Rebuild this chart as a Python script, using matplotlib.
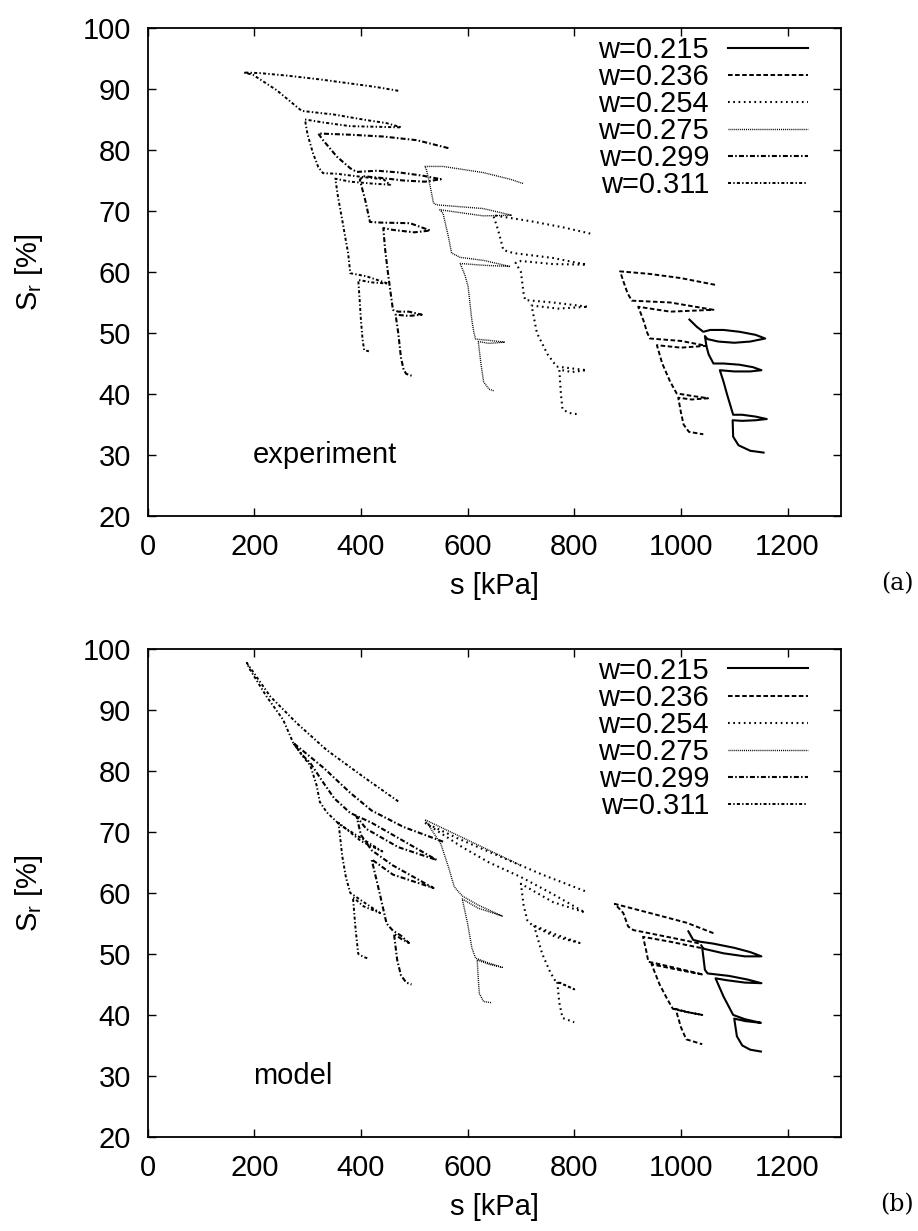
import matplotlib
matplotlib.use('Agg')
import matplotlib.pyplot as plt

plt.rcParams['font.family'] = ['Liberation Sans', 'DejaVu Sans']
plt.rcParams['lines.scale_dashes'] = False

labels = ['w=0.215', 'w=0.236', 'w=0.254', 'w=0.275', 'w=0.299', 'w=0.311']
styles = ['-', (0, (3.3, 1.8)), (0, (1.2, 2.6)), (0, (0.7, 0.7)),
          (0, (3.6, 1.6, 1.1, 1.6)), (0, (2.2, 1.6, 1.0, 1.6))]

# ---- experiment ----
exp_s_215 = [1016, 1030, 1042, 1055, 1080, 1110, 1140, 1158, 1130, 1100, 1070, 1050, 1045, 1048, 1052, 1061,
             1080, 1110, 1135, 1151, 1130, 1100, 1073, 1080, 1086, 1098, 1115, 1140, 1161, 1140, 1115, 1097,
             1098, 1108, 1130, 1155]
exp_sr_215 = [52.2, 51.0, 50.2, 50.5, 50.5, 50.2, 49.7, 49.1, 48.6, 48.4, 48.6, 49.0, 49.5, 47.8, 46.5, 45.0,
              45.0, 44.8, 44.4, 43.9, 43.7, 43.7, 43.9, 42.0, 40.1, 36.6, 36.6, 36.3, 35.9, 35.7, 35.6, 35.7,
              33.0, 31.6, 30.7, 30.4]

exp_s_236 = [1064, 1000, 940, 886, 892, 900, 908, 980, 1061, 980, 920, 930, 937, 942, 1000, 1048, 1000, 955,
             965, 980, 992, 1020, 1051, 1020, 995, 1000, 1005, 1015, 1042]
exp_sr_236 = [57.9, 59.0, 59.7, 60.1, 58.5, 56.5, 55.3, 55.0, 53.8, 53.5, 54.3, 52.0, 50.0, 49.1, 48.7, 47.9, 47.6, 48.0,
              45.0, 42.0, 40.1, 39.7, 39.3, 39.1, 39.4, 37.0, 35.0, 33.8, 33.4]

exp_s_254 = [830, 780, 720, 648, 655, 660, 667, 686, 760, 823, 760, 700, 690, 700, 705, 708, 760, 826, 770, 720,
             730, 750, 767, 795, 823, 795, 772, 775, 778, 790, 805]
exp_sr_254 = [66.3, 67.3, 68.3, 69.3, 67.5, 66.0, 63.6, 63.1, 62.3, 61.2, 61.3, 61.8, 61.5, 60.0, 56.5, 55.4, 55.0, 54.3,
              54.0, 54.5, 50.0, 46.5, 44.5, 44.2, 43.9, 43.6, 44.0, 40.0, 37.5, 36.9, 36.7]

exp_s_275 = [704, 680, 629, 554, 520, 523, 530, 536, 542, 629, 683, 629, 548, 554, 564, 570, 586, 630, 680, 630,
             586, 595, 601, 608, 612, 615, 640, 670, 640, 620, 625, 630, 640, 650]
exp_sr_275 = [74.5, 75.2, 76.3, 77.3, 77.3, 76.7, 74.0, 71.3, 71.0, 70.4, 69.3, 69.2, 70.2, 69.6, 65.8, 63.1, 62.4,
              61.9, 60.9, 61.1, 61.4, 59.5, 57.6, 52.1, 50.0, 49.0, 48.8, 48.5, 48.3, 48.6, 45.0, 42.0, 40.8, 40.5]

exp_s_299 = [564, 505, 442, 380, 320, 329, 355, 380, 392, 430, 473, 515, 550, 520, 479, 440, 404, 398, 408, 417,
             436, 492, 530, 500, 460, 442, 445, 450, 455, 460, 470, 490, 514, 490, 465, 470, 475, 480, 485, 495]
exp_sr_299 = [80.3, 81.6, 82.2, 82.5, 82.7, 81.6, 78.9, 77.0, 76.4, 76.6, 76.3, 75.8, 75.2, 74.8, 75.0, 75.4, 75.7,
              75.1, 71.8, 68.2, 68.1, 68.0, 66.8, 66.5, 66.9, 67.2, 64.0, 60.3, 57.0, 53.8, 53.5, 53.5, 53.0, 52.8,
              53.0, 50.0, 46.0, 44.0, 43.3, 43.0]

exp_s_311 = [470, 430, 380, 320, 260, 210, 180, 198, 242, 289, 350, 410, 448, 476, 430, 380, 330, 295, 300, 310,
             320, 329, 355, 400, 442, 455, 420, 380, 352, 357, 365, 372, 376, 380, 410, 451, 420, 395, 398, 400,
             403, 406, 415]
exp_sr_311 = [89.7, 90.3, 90.9, 91.6, 92.2, 92.6, 92.7, 92.3, 89.8, 86.4, 85.8, 84.9, 84.4, 83.7, 83.8, 83.9, 84.5,
              85.0, 82.5, 79.5, 77.2, 76.2, 76.1, 75.6, 75.2, 74.3, 74.5, 74.8, 75.3, 72.3, 68.5, 65.0, 63.1, 59.8,
              59.3, 58.1, 58.3, 58.7, 54.9, 52.1, 49.0, 47.2, 47.0]

# ---- model ----
mod_s_215 = [1014, 1023, 1036, 1060, 1100, 1130, 1151, 1120, 1080, 1045, 1040, 1045, 1050, 1060, 1090, 1125,
             1151, 1120, 1085, 1065, 1080, 1098, 1120, 1150, 1120, 1100, 1105, 1115, 1130, 1150]
mod_sr_215 = [53.7, 52.3, 52.0, 51.7, 51.0, 50.3, 49.6, 49.6, 50.1, 50.8, 51.0, 47.4, 46.8, 46.7, 46.4, 45.8,
              45.2, 45.3, 45.7, 46.0, 43.0, 40.0, 39.3, 38.7, 39.0, 39.4, 36.5, 35.0, 34.3, 34.0]

mod_s_236 = [1061, 1011, 942, 876, 892, 901, 911, 923, 980, 1036, 1042, 980, 929, 935, 939, 951, 1000, 1042, 1000,
             945, 960, 975, 985, 1010, 1040, 1010, 990, 1000, 1010, 1040]
mod_sr_236 = [53.4, 55.1, 56.7, 58.2, 56.7, 54.5, 53.9, 53.7, 52.7, 51.7, 50.9, 52.0, 52.8, 50.5, 48.7, 48.5, 47.5,
              46.6, 47.3, 48.3, 45.0, 42.5, 41.0, 40.5, 40.0, 40.5, 41.0, 38.0, 36.0, 35.2]

mod_s_254 = [820, 740, 660, 580, 520, 590, 640, 700, 760, 820, 760, 700, 705, 712, 720, 765, 810, 765, 725, 740,
             755, 765, 785, 800, 780, 768, 772, 778, 800]
mod_sr_254 = [60.3, 63.0, 66.0, 69.0, 71.5, 67.5, 65.0, 62.6, 59.8, 56.8, 58.5, 61.5, 58.0, 55.5, 54.8, 53.2, 51.8,
              52.8, 54.5, 50.0, 47.0, 45.5, 44.8, 44.2, 45.0, 45.5, 42.0, 39.5, 38.8]

mod_s_275 = [700, 640, 580, 520, 550, 565, 575, 590, 620, 665, 620, 590, 600, 608, 615, 640, 665, 640, 618, 620,
             622, 630, 645]
mod_sr_275 = [64.5, 67.0, 69.5, 72.0, 68.0, 64.0, 61.0, 59.5, 58.0, 56.2, 57.5, 59.0, 55.0, 51.0, 49.3, 48.5, 47.8,
              48.3, 49.0, 46.0, 43.5, 42.2, 42.0]

mod_s_299 = [554, 480, 420, 380, 330, 273, 290, 305, 330, 350, 380, 420, 470, 542, 470, 410, 392, 400, 420, 460,
             536, 460, 420, 435, 448, 460, 475, 490, 475, 462, 468, 475, 485, 495]
mod_sr_299 = [68.4, 70.8, 73.5, 76.4, 80.5, 84.6, 82.6, 81.3, 78.0, 75.5, 73.1, 71.5, 69.0, 65.4, 67.5, 70.5, 72.5,
              69.5, 67.0, 64.5, 60.8, 63.0, 65.5, 60.0, 55.0, 53.8, 53.0, 51.8, 52.5, 53.3, 49.0, 46.5, 45.3, 45.0]

mod_s_311 = [470, 405, 336, 280, 230, 186, 192, 223, 254, 273, 290, 305, 317, 323, 336, 360, 400, 440, 400, 358,
             365, 372, 380, 405, 436, 405, 385, 390, 395, 405, 415]
mod_sr_311 = [75.0, 79.0, 83.4, 87.8, 92.2, 97.7, 96.6, 92.2, 88.4, 84.6, 82.5, 80.9, 77.6, 74.9, 73.2, 71.2, 69.0,
              66.8, 68.5, 71.5, 66.0, 62.5, 60.0, 58.5, 56.7, 57.8, 59.3, 54.0, 50.0, 49.5, 49.2]

exp_s = [exp_s_215, exp_s_236, exp_s_254, exp_s_275, exp_s_299, exp_s_311]
exp_sr = [exp_sr_215, exp_sr_236, exp_sr_254, exp_sr_275, exp_sr_299, exp_sr_311]
mod_s = [mod_s_215, mod_s_236, mod_s_254, mod_s_275, mod_s_299, mod_s_311]
mod_sr = [mod_sr_215, mod_sr_236, mod_sr_254, mod_sr_275, mod_sr_299, mod_sr_311]
widths = [1.5, 1.4, 1.5, 1.0, 1.5, 1.4]

fig = plt.figure(figsize=(9.18, 12.31), dpi=100)
ax1 = fig.add_axes([0.1608, 0.5808, 0.7552, 0.3965])
ax2 = fig.add_axes([0.1608, 0.0764, 0.7552, 0.3965])

for ax, xs, ys, tag in [(ax1, exp_s, exp_sr, 'experiment'), (ax2, mod_s, mod_sr, 'model')]:
    for i in range(6):
        ax.plot(xs[i], ys[i], color='black', linestyle=styles[i], lw=widths[i], label=labels[i])
    ax.set_xlim(0, 1300)
    ax.set_ylim(20, 100)
    ax.set_xticks([0, 200, 400, 600, 800, 1000, 1200])
    ax.set_yticks(range(20, 101, 10))
    ax.tick_params(direction='in', length=6, width=1, top=True, right=True, labelsize=21, pad=12)
    for sp in ax.spines.values():
        sp.set_linewidth(1.3)
    ax.set_xlabel('s [kPa]', fontsize=21, labelpad=8)
    ax.set_ylabel('S$_\\mathregular{r}$ [%]', fontsize=21, labelpad=27)
    ax.text(198, 30, tag, fontsize=21, va='center', ha='left')
    ax.legend(loc='upper right', bbox_to_anchor=(0.953, 0.984), frameon=False, fontsize=21,
              markerfirst=False, handlelength=2.75, handletextpad=0.65, labelspacing=-0.03,
              borderpad=0, borderaxespad=0)

fig.text(0.977, 0.526, '(a)', fontsize=17, family='DejaVu Serif', ha='center', va='center')
fig.text(0.977, 0.021, '(b)', fontsize=17, family='DejaVu Serif', ha='center', va='center')

fig.savefig('out.png', dpi=100)
